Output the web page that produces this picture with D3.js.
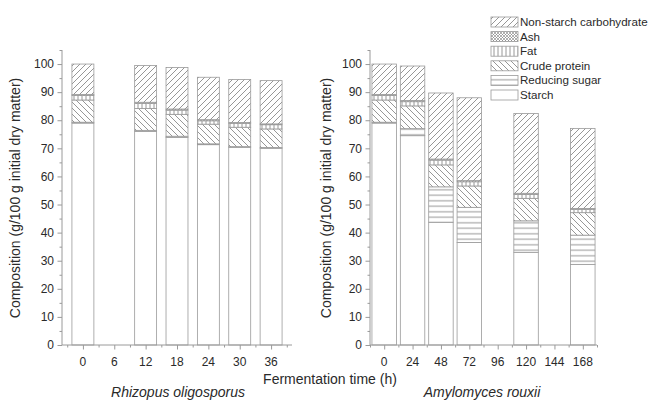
<!DOCTYPE html>
<html><head><meta charset="utf-8">
<script src="https://cdn.jsdelivr.net/npm/d3@7"></script>
<style>html,body{margin:0;padding:0;background:#fff;}svg{display:block;}</style>
</head><body>
<svg id="chart" width="649" height="401"></svg>
<script>
// ---- data ----
const components = ["Starch","Reducing sugar","Crude protein","Fat","Ash","Non-starch carbohydrate"];
const legendOrder = ["Non-starch carbohydrate","Ash","Fat","Crude protein","Reducing sugar","Starch"];

const timesR = [0,12,18,24,30,36];
const starchR   = [79.0,76.0,73.9,71.3,70.3,70.0];
const reducingR = [0.3,0.4,0.4,0.3,0.3,0.3];
const proteinR  = [7.9,7.8,7.8,7.0,6.9,6.6];
const fatR      = [1.6,1.8,1.5,1.2,1.4,1.5];
const ashR      = [0.4,0.4,0.4,0.4,0.3,0.3];
const nscR      = [10.8,13.1,14.8,15.1,15.3,15.4];

const timesA = [0,24,48,72,120,168];
const starchA   = [79.0,74.5,43.7,36.5,33.0,28.7];
const reducingA = [0.3,2.5,12.6,12.5,11.2,10.4];
const proteinA  = [7.9,8.1,7.8,7.6,8.0,8.0];
const fatA      = [1.6,1.5,1.7,1.5,1.4,1.2];
const ashA      = [0.4,0.4,0.4,0.4,0.4,0.3];
const nscA      = [10.8,12.3,23.5,29.5,28.4,28.5];

const ticksXR = [0,6,12,18,24,30,36];
const ticksXA = [0,24,48,72,96,120,144,168];
const ticksY  = [0,10,20,30,40,50,60,70,80,90,100];

const svg = d3.select("#chart");
const font = "'Liberation Sans', Arial, sans-serif";
const axisCol = "#9a9a9a", lineCol = "#7c7c7c", textCol = "#2a2a2a";

// ---- patterns ----
const defs = svg.append("defs");
function pat(id, w, h, paths, sw){
  const p = defs.append("pattern").attr("id",id).attr("patternUnits","userSpaceOnUse")
    .attr("width",w).attr("height",h);
  p.append("rect").attr("width",w).attr("height",h).attr("fill","#fff");
  paths.forEach(d=>p.append("path").attr("d",d).attr("stroke",lineCol).attr("stroke-width",sw||0.8).attr("fill","none"));
}
pat("p-nsc",6,6,["M-1,1 L1,-1","M0,6 L6,0","M5,7 L7,5"]);
pat("p-protein",6,6,["M-1,5 L1,7","M0,0 L6,6","M5,-1 L7,1"]);
pat("p-fat",4,4,["M2,0 L2,4"]);
pat("p-rs",5.5,5.5,["M0,2.75 L5.5,2.75"]);
pat("p-ash",3,3,["M0,0 L3,3","M3,0 L0,3"],0.6);
const fills = {"Starch":"#fff","Reducing sugar":"url(#p-rs)","Crude protein":"url(#p-protein)",
  "Fat":"url(#p-fat)","Ash":"url(#p-ash)","Non-starch carbohydrate":"url(#p-nsc)"};

const y = d3.scaleLinear().domain([0,105]).range([345,50]);

function panel(times, series, xDomain, xRange, bwUnits, ticksX, minorStep, yLabelX, title, titleX){
  const x = d3.scaleLinear().domain(xDomain).range(xRange);
  const g = svg.append("g");
  const rows = times.map((t,i)=>{const o={t}; components.forEach((c,k)=>o[c]=series[k][i]); return o;});
  const stack = d3.stack().keys(components)(rows);
  const bw = x(bwUnits) - x(0);
  stack.forEach(layer=>{
    g.selectAll(null).data(layer).enter().append("rect")
      .attr("x",d=>x(d.data.t)-bw/2).attr("width",bw)
      .attr("y",d=>y(d[1])).attr("height",d=>y(d[0])-y(d[1]))
      .attr("fill",fills[layer.key]).attr("stroke",axisCol).attr("stroke-width",0.8);
  });
  // y axis
  const ya = g.append("g").attr("transform",`translate(${xRange[0]},0)`);
  ya.call(d3.axisLeft(y).tickValues(d3.range(0,106,5)).tickSize(2.5).tickFormat(""));
  ya.call(gg=>gg.selectAll(".tick").filter(d=>d%10===0).select("line").attr("x2",-4.5));
  ya.select(".domain").attr("d",`M0,${y(0)}V${y(105)}`);
  ya.selectAll("line,path").attr("stroke",axisCol);
  ya.selectAll(".lbl").data(ticksY).enter().append("text")
    .attr("x",-8).attr("y",d=>y(d)).attr("dy","0.35em").attr("text-anchor","end")
    .attr("font-family",font).attr("font-size",12).attr("fill",textCol).text(d=>d);
  // x axis
  const xa = g.append("g").attr("transform",`translate(0,345)`);
  const minor = d3.range(Math.ceil(xDomain[0]/minorStep)*minorStep, xDomain[1]+0.01, minorStep);
  xa.call(d3.axisBottom(x).tickValues(minor).tickSize(2.5).tickFormat(""));
  xa.call(gg=>gg.selectAll(".tick").filter(d=>ticksX.includes(d)).select("line").attr("y2",4.5));
  xa.select(".domain").attr("d",`M${xRange[0]},0H${xRange[1]}`);
  xa.selectAll("line,path").attr("stroke",axisCol);
  xa.selectAll(".lbl").data(ticksX).enter().append("text")
    .attr("x",d=>x(d)).attr("y",21).attr("text-anchor","middle")
    .attr("font-family",font).attr("font-size",12).attr("fill",textCol).text(d=>d);
  // y title
  g.append("text").attr("transform",`translate(${yLabelX},198) rotate(-90)`)
    .attr("text-anchor","middle").attr("dy","0.35em")
    .attr("font-family",font).attr("font-size",14).attr("fill",textCol)
    .text("Composition (g/100 g initial dry matter)");
  g.append("text").attr("x",titleX).attr("y",397).attr("text-anchor","middle")
    .attr("font-family",font).attr("font-size",14).attr("font-style","italic").attr("fill",textCol)
    .text(title);
}

panel(timesR,[starchR,reducingR,proteinR,fatR,ashR,nscR],[-4,40],[62,292],4.2,ticksXR,3,15,"Rhizopus oligosporus",178);
panel(timesA,[starchA,reducingA,proteinA,fatA,ashA,nscA],[-12,180],[370,597],20.7,ticksXA,12,326,"Amylomyces rouxii",482);

svg.append("text").attr("x",330).attr("y",384).attr("text-anchor","middle")
  .attr("font-family",font).attr("font-size",14).attr("fill",textCol).text("Fermentation time (h)");

// legend
const lg = svg.append("g");
legendOrder.forEach((c,i)=>{
  const cy = 22 + i*14.6;
  lg.append("rect").attr("x",491).attr("y",cy-5).attr("width",27).attr("height",10)
    .attr("fill",fills[c]).attr("stroke",axisCol).attr("stroke-width",0.8);
  lg.append("text").attr("x",520).attr("y",cy).attr("dy","0.35em")
    .attr("font-family",font).attr("font-size",11.6).attr("fill",textCol).text(c);
});
</script>
</body></html>
